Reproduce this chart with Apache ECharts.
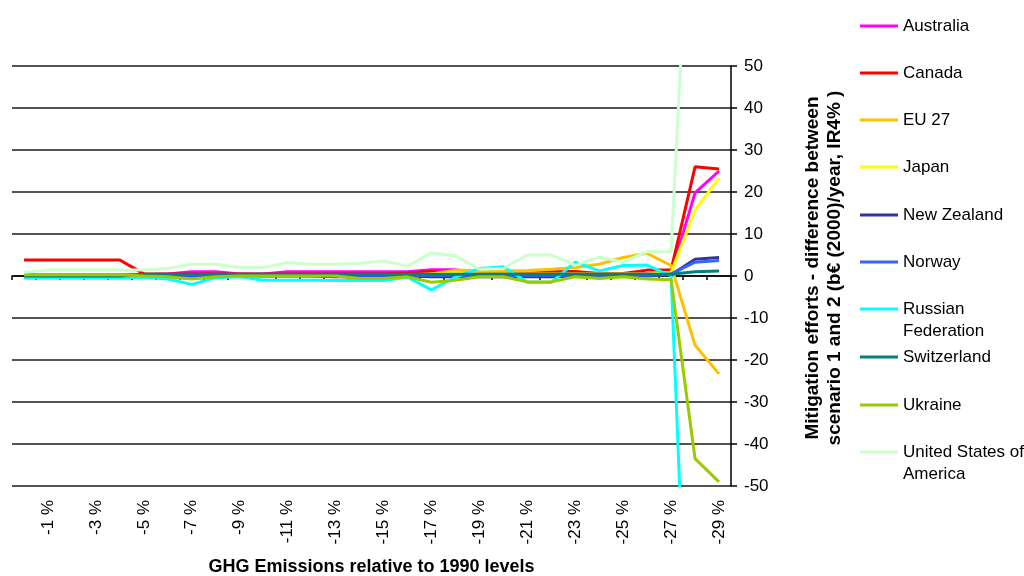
<!DOCTYPE html>
<html>
<head>
<meta charset="utf-8">
<script src="https://cdn.jsdelivr.net/npm/echarts@6/dist/echarts.min.js"></script>
<style>
  html, body { margin: 0; padding: 0; background: #fff; }
  #chart { width: 1024px; height: 576px; }
</style>
</head>
<body>
<div id="chart"></div>
<script>
// Reduction targets: 0 % to -29 % relative to 1990
const categories = [
  '0 %', '-1 %', '-2 %', '-3 %', '-4 %', '-5 %', '-6 %', '-7 %', '-8 %', '-9 %',
  '-10 %', '-11 %', '-12 %', '-13 %', '-14 %', '-15 %', '-16 %', '-17 %', '-18 %', '-19 %',
  '-20 %', '-21 %', '-22 %', '-23 %', '-24 %', '-25 %', '-26 %', '-27 %', '-28 %', '-29 %'
];

const australia   = [0.3, 0.3, 0.3, 0.3, 0.3, 0.3, 0.5, 1.0, 1.0, 0.5, 0.5, 1.0, 1.0, 1.0, 1.0, 1.0, 1.0, 1.5, 1.5, 0.6, 0.6, 0.6, 0.6, 0.6, 0.6, 0.6, 0.6, 0.6, 19.8, 25.0];
const canada      = [3.8, 3.8, 3.8, 3.8, 3.8, 0.5, 0.5, 0.5, 0.5, 0.5, 0.5, 0.5, 0.5, 0.5, 0.5, 0.5, 0.7, 1.1, 0.6, 0.6, 0.6, 0.6, 1.0, 1.1, 0.6, 0.6, 1.4, 1.4, 26.0, 25.5];
const eu27        = [-0.2, -0.2, -0.2, -0.2, -0.2, -0.2, -0.3, -0.6, -0.2, 0.2, 0.2, 0.2, 0.2, 0.2, 0.2, 0.2, 0.3, 0.5, 1.4, 1.2, 1.2, 1.3, 1.6, 2.0, 2.8, 4.4, 5.4, 2.5, -16.5, -23.3];
const japan       = [0.0, 0.0, 0.0, 0.0, 0.0, 0.2, 0.2, 0.2, 0.2, 0.2, 0.2, 0.2, 0.2, 0.2, 0.2, 0.2, 0.2, 0.5, 0.8, 0.5, 0.5, 0.5, 0.5, 0.5, 0.5, 0.5, 0.5, 0.8, 15.7, 23.3];
const newZealand  = [0.0, 0.0, 0.0, 0.0, 0.0, 0.0, 0.0, 0.0, 0.0, 0.0, 0.0, 0.0, 0.0, -0.2, -0.2, -0.2, 0.0, -0.2, -0.2, -0.2, -0.2, -0.2, -0.2, 0.0, 0.0, 0.0, 0.0, 0.3, 4.0, 4.4];
const norway      = [0.0, 0.0, 0.0, 0.0, 0.0, 0.2, 0.2, 0.2, 0.2, 0.2, 0.2, 0.2, 0.2, 0.2, 0.2, 0.2, 0.2, 0.2, 0.2, 0.2, 0.2, 0.2, 0.2, 0.2, 0.2, 0.2, 0.2, 0.5, 3.3, 3.7];
const russia      = [-0.5, -0.5, -0.5, -0.5, -0.5, -0.3, -0.7, -2.0, -0.4, -0.2, -1.0, -1.0, -1.0, -1.1, -1.1, -1.1, -0.3, -3.3, -0.3, 1.8, 2.2, -1.5, -1.5, 3.3, 1.2, 2.5, 2.6, 0.0, -140, -150];
const switzerland = [0.0, 0.0, 0.0, 0.0, 0.0, 0.4, 0.4, 0.4, 0.4, 0.4, 0.4, 0.4, 0.4, 0.4, 0.4, 0.4, 0.4, 0.4, 0.4, 0.4, 0.4, 0.4, 0.4, 0.4, 0.4, 0.4, 0.4, 0.4, 1.0, 1.2];
const ukraine     = [0.3, 0.3, 0.3, 0.3, 0.3, 0.0, -0.2, -0.7, -0.2, 0.0, 0.0, 0.0, 0.0, 0.0, -0.6, -0.6, -0.2, -1.5, -1.0, -0.2, -0.2, -1.4, -1.4, -0.2, -0.6, -0.2, -0.7, -0.9, -43.5, -49.0];
const usa         = [0.9, 1.4, 1.4, 1.4, 1.4, 1.4, 1.8, 2.8, 2.8, 2.0, 2.0, 3.2, 2.8, 2.8, 3.0, 3.6, 2.3, 5.5, 4.8, 1.6, 1.8, 5.0, 5.0, 2.6, 4.5, 3.3, 5.8, 5.8, 118, 130];

const seriesNames = ['Australia', 'Canada', 'EU 27', 'Japan', 'New Zealand', 'Norway',
  'Russian Federation', 'Switzerland', 'Ukraine', 'United States of America'];
const seriesValues = [australia, canada, eu27, japan, newZealand, norway,
  russia, switzerland, ukraine, usa];
const seriesColors = ['#ff00ff', '#ff0000', '#ffc000', '#ffff00', '#333399', '#3366ff',
  '#00ffff', '#008080', '#99cc00', '#ccffcc'];
// wrapped names: a blank first line keeps the swatch level with the first text line
const legendLabels = ['Australia', 'Canada', 'EU 27', 'Japan', 'New Zealand', 'Norway',
  ' \nRussian\nFederation', 'Switzerland', 'Ukraine', ' \nUnited States of\nAmerica'];
const legendCenters = [26, 73, 120, 167, 215, 262, 309, 357, 405, 452];

const yTitle = 'Mitigation efforts - difference between\nscenario 1 and 2 (b€ (2000)/year, IR4% )';
const xTitle = 'GHG Emissions relative to 1990 levels';

const FONT = '"Liberation Sans", Arial, sans-serif';

const chart = echarts.init(document.getElementById('chart'), null, { renderer: 'canvas' });

// one legend block per country so every entry sits on its own row
const legends = seriesNames.map((name, i) => {
  const lines = legendLabels[i].split('\n').length;
  return {
    data: [name],
    left: 860,
    top: legendCenters[i] - lines * 11,
    orient: 'vertical',
    icon: 'rect',
    itemWidth: 38,
    itemHeight: 3,
    selectedMode: false,
    padding: 0,
    formatter: () => legendLabels[i],
    textStyle: {
      fontFamily: FONT,
      fontSize: 17,
      color: '#000',
      lineHeight: 22
    }
  };
});

const option = {
  animation: false,
  backgroundColor: '#fff',
  grid: { left: 12, right: 293, top: 66, bottom: 90, containLabel: false, outerBoundsMode: 'none' },
  legend: legends,
  xAxis: [
    {
      // axis through zero with tick marks between categories
      type: 'category',
      data: categories,
      boundaryGap: true,
      position: 'bottom',
      axisLine: { onZero: true, lineStyle: { color: '#000', width: 1.5 } },
      axisTick: { show: true, interval: 0, length: 4, lineStyle: { color: '#000', width: 1.5 } },
      axisLabel: { show: false },
      splitLine: { show: false }
    },
    {
      // category labels along the bottom edge
      type: 'category',
      data: categories,
      boundaryGap: true,
      position: 'bottom',
      axisLine: { show: false, onZero: false },
      axisTick: { show: false },
      splitLine: { show: false },
      axisLabel: {
        show: true,
        rotate: 90,
        margin: 14,
        interval: (idx) => idx % 2 === 1,
        fontFamily: FONT,
        fontSize: 17,
        color: '#000'
      },
      name: xTitle,
      nameLocation: 'middle',
      nameGap: 72,
      nameTextStyle: { fontFamily: FONT, fontSize: 18, fontWeight: 'bold', color: '#000' }
    }
  ],
  yAxis: {
    type: 'value',
    position: 'right',
    min: -50,
    max: 50,
    interval: 10,
    axisLine: { show: true, lineStyle: { color: '#000', width: 1.5 } },
    axisTick: { show: true, inside: false, length: 6, lineStyle: { color: '#000', width: 1.5 } },
    axisLabel: { margin: 13, fontFamily: FONT, fontSize: 17, color: '#000' },
    splitLine: { show: true, lineStyle: { color: '#1a1a1a', width: 1.5 } }
  },
  graphic: [
    {
      type: 'text',
      x: 824,
      y: 268,
      rotation: Math.PI / 2,
      style: {
        text: yTitle,
        font: 'bold 19px ' + FONT,
        fill: '#000',
        align: 'center',
        verticalAlign: 'middle',
        lineHeight: 22
      }
    }
  ],
  series: seriesNames.map((name, i) => ({
    name: name,
    type: 'line',
    xAxisIndex: 0,
    data: seriesValues[i],
    symbol: 'none',
    clip: true,
    color: seriesColors[i],
    lineStyle: { color: seriesColors[i], width: 3 }
  }))
};

chart.setOption(option);
</script>
</body>
</html>
